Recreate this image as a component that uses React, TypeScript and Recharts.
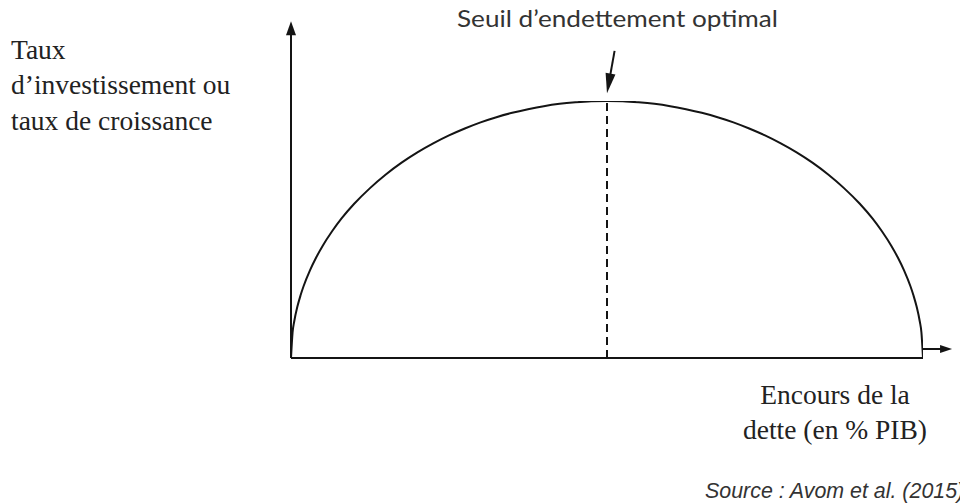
import { LineChart, Line, XAxis, YAxis, ReferenceLine } from "recharts";

// debt stock (% of GDP, schematic 0-100 scale) and growth/investment rate (0-100)
const debtRatio = [
  0, 0.25, 0.5, 1, 1.5, 2, 3, 4, 5, 6.5, 8, 10, 12.5, 15, 17.5, 20, 22.5, 25, 27.5, 30, 32.5, 35, 37.5, 40, 42.5, 45, 47.5,
  50,
  52.5, 55, 57.5, 60, 62.5, 65, 67.5, 70, 72.5, 75, 77.5, 80, 82.5, 85, 87.5, 90, 92, 93.5, 95, 96, 97, 98, 98.5, 99, 99.5, 99.75, 100,
];
const growthRate = [
  0, 10, 14.1, 19.9, 24.3, 28, 34.1, 39.2, 43.6, 49.3, 54.3, 60, 66.1, 71.4, 76, 80, 83.5, 86.6, 89.3, 91.7, 93.7, 95.4, 96.8, 98, 98.9, 99.5, 99.9,
  100,
  99.9, 99.5, 98.9, 98, 96.8, 95.4, 93.7, 91.7, 89.3, 86.6, 83.5, 80, 76, 71.4, 66.1, 60, 54.3, 49.3, 43.6, 39.2, 34.1, 28, 24.3, 19.9, 14.1, 10, 0,
];

const optimalDebt = 50;
const peakRate = 100;

const yAxisLabel = ["Taux", "d’investissement ou", "taux de croissance"];
const xAxisLabel = ["Encours de la", "dette (en % PIB)"];
const thresholdLabel = "Seuil d’endettement optimal";
const sourceLabel = "Source : Avom et al. (2015)";

const data = debtRatio.map((d, i) => ({ debt: d, rate: growthRate[i] }));

const INK = "#141414";

// line with a filled arrow head at its second end point
const arrowShape = (headLen: number, headW: number) => (props: any) => {
  const { x1, y1, x2, y2 } = props;
  const dx = x2 - x1;
  const dy = y2 - y1;
  const len = Math.hypot(dx, dy) || 1;
  const ux = dx / len;
  const uy = dy / len;
  const bx = x2 - ux * headLen;
  const by = y2 - uy * headLen;
  const px = -uy * (headW / 2);
  const py = ux * (headW / 2);
  return (
    <g>
      <line x1={x1} y1={y1} x2={bx + ux} y2={by + uy} stroke={INK} strokeWidth={2} />
      <polygon
        points={`${x2},${y2} ${bx + px},${by + py} ${bx - px},${by - py}`}
        fill={INK}
      />
    </g>
  );
};

export default function App() {
  return (
    <div style={{ position: "absolute", left: 0, top: 0, width: 960, height: 504, background: "#fff", overflow: "hidden" }}>
      <LineChart width={960} height={504} data={data} margin={{ top: 101, right: 37, bottom: 146, left: 291 }}>
        <XAxis dataKey="debt" type="number" domain={[0, 100]} allowDataOverflow hide />
        <YAxis type="number" domain={[0, 100]} allowDataOverflow hide />
        <ReferenceLine y={0} stroke={INK} strokeWidth={2} ifOverflow="visible" />
        <ReferenceLine
          segment={[{ x: 0, y: 0 }, { x: 0, y: 131 }]}
          ifOverflow="visible"
          shape={arrowShape(14, 10)}
        />
        <ReferenceLine
          segment={[{ x: 100, y: 3.5 }, { x: 104.6, y: 3.5 }]}
          ifOverflow="visible"
          shape={arrowShape(12, 8)}
        />
        <ReferenceLine
          segment={[{ x: optimalDebt, y: 0 }, { x: optimalDebt, y: peakRate }]}
          stroke={INK}
          strokeWidth={2}
          strokeDasharray="8 5"
          ifOverflow="visible"
        />
        <ReferenceLine
          segment={[{ x: 51.2, y: 119.5 }, { x: optimalDebt, y: 103 }]}
          ifOverflow="visible"
          shape={arrowShape(20, 10)}
        />
        <Line
          type="monotone"
          dataKey="rate"
          stroke={INK}
          strokeWidth={2}
          dot={false}
          activeDot={false}
          isAnimationActive={false}
        />
      </LineChart>
      <svg width={960} height={504} style={{ position: "absolute", left: 0, top: 0, pointerEvents: "none" }}>
        <g fontFamily="'Liberation Serif', 'Times New Roman', serif" fontSize={27.5} fill="#222">
          {yAxisLabel.map((t, i) => (
            <text key={t} x={11} y={58.5 + i * 35.5}>{t}</text>
          ))}
          {xAxisLabel.map((t, i) => (
            <text key={t} x={835} y={404 + i * 35} textAnchor="middle">{t}</text>
          ))}
        </g>
        <text
          x={457}
          y={27}
          fontFamily="Lato, 'Open Sans', sans-serif"
          fontSize={23}
          fill="#333"
          textLength={321}
          lengthAdjust="spacingAndGlyphs"
        >
          {thresholdLabel}
        </text>
        <text
          x={705}
          y={498}
          fontFamily="'Liberation Sans', Arial, sans-serif"
          fontStyle="italic"
          fontSize={21.4}
          fill="#333"
        >
          {sourceLabel}
        </text>
      </svg>
    </div>
  );
}
